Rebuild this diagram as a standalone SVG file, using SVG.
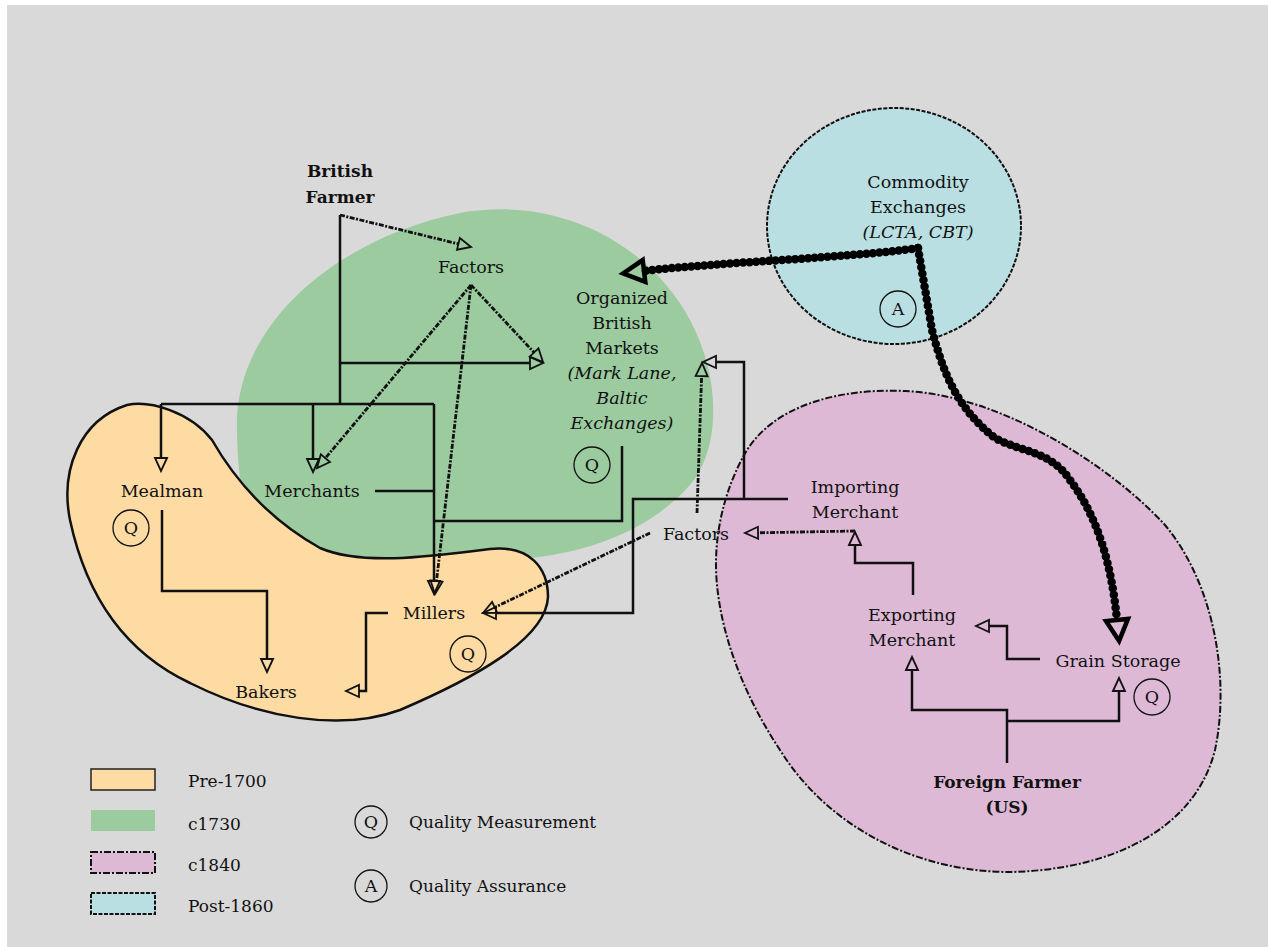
<svg xmlns="http://www.w3.org/2000/svg" width="1268" height="947" viewBox="0 0 1268 947">
<style>
text{font-family:"DejaVu Serif","Liberation Serif",serif;font-size:17.5px;fill:#111;text-anchor:middle}
.b{font-weight:bold;font-size:17px}
.i{font-style:italic}
.lg{text-anchor:start;font-size:17px}
.ln{fill:none;stroke:#111;stroke-width:2.5;stroke-linejoin:miter}
.ds{fill:none;stroke:#111;stroke-width:2.8;stroke-dasharray:5 1.5 2 1.5}
.th{fill:none;stroke:#000;stroke-width:8.5;stroke-linecap:round;stroke-dasharray:0 6.5}
.ring{fill:none;stroke:#111;stroke-width:1.3}
.ah{fill:none;stroke:#111;stroke-width:1.8;stroke-dasharray:none}
.ahb{fill:none;stroke:#000;stroke-width:4.5;stroke-dasharray:none;stroke-linejoin:miter}
</style>
<defs>
<marker id="a" markerUnits="userSpaceOnUse" viewBox="0 0 16 14" markerWidth="16" markerHeight="14" refX="1" refY="7" orient="auto" overflow="visible"><path class="ah" d="M1,1 L14,7 L1,13 Z"/></marker>
<marker id="ab" markerUnits="userSpaceOnUse" viewBox="0 0 28 28" markerWidth="28" markerHeight="28" refX="2" refY="14" orient="auto" overflow="visible"><path class="ahb" d="M2,3 L23,14 L2,25 Z"/></marker>
</defs>
<rect x="0" y="0" width="1268" height="947" fill="#ffffff"/>
<rect x="7" y="5" width="1261" height="942" fill="#d9d9d9"/>
<g id="regions">
<path id="region-c1730" d="M237,430 C233,330 330,240 460,213 C560,195 650,245 690,320 C722,380 720,450 690,485 C650,530 590,552 530,558 L300,575 C250,560 238,500 237,430 Z" fill="#9bcb9f"/>
<path id="region-pre1700" d="M127,405 C150,400 190,412 212,440 C235,480 270,520 320,548 C360,565 420,558 490,549 C530,545 548,568 548,597 C546,640 470,680 400,710 C340,732 260,718 190,683 C120,650 85,590 70,520 C60,470 80,420 127,405 Z" fill="#fedba3" stroke="#111" stroke-width="2.5"/>
<path id="region-c1840" d="M743,457 C770,405 840,388 905,391 C1000,395 1110,465 1165,525 C1215,585 1230,680 1215,750 C1195,830 1110,870 1010,872 C920,872 830,830 780,750 C740,690 715,620 716,560 C717,520 728,485 743,457 Z" fill="#ddb9d6" stroke="#111" stroke-width="2" stroke-dasharray="7 2 2 2"/>
<ellipse id="region-post1860" cx="894" cy="226" rx="127" ry="118" fill="#b9dfe3" stroke="#111" stroke-width="2" stroke-dasharray="4 1.5"/>
</g>
<g id="connectors">
<path class="ln" d="M340,215 V404"/>
<path class="ln" d="M340,363 H530" marker-end="url(#a)"/>
<path class="ln" d="M161,404 H434"/>
<path class="ln" d="M161,404 V458" marker-end="url(#a)"/>
<path class="ln" d="M313,404 V459" marker-end="url(#a)"/>
<path class="ln" d="M434,404 V581" marker-end="url(#a)"/>
<path class="ln" d="M375,491 H434"/>
<path class="ln" d="M162,510 V591 H267 V659" marker-end="url(#a)"/>
<path class="ln" d="M388,613 H366 V691 H359" marker-end="url(#a)"/>
<path class="ln" d="M622,446 V521 H434"/>
<path class="ln" d="M788,499 H633 V613 H496" marker-end="url(#a)"/>
<path class="ln" d="M744,499 V362 H716" marker-end="url(#a)"/>
<path class="ln" d="M913,595 V563 H855 V545" marker-end="url(#a)"/>
<path class="ln" d="M1040,659 H1007 V626 H989" marker-end="url(#a)"/>
<path class="ln" d="M1007,763 V710 H912 V670" marker-end="url(#a)"/>
<path class="ln" d="M1007,721 H1119 V691" marker-end="url(#a)"/>
<path class="ds" d="M340,215 L458.4,243.9" marker-end="url(#a)"/>
<path class="ds" d="M471,285 L534.1,352.5" marker-end="url(#a)"/>
<path class="ds" d="M471,285 L325.4,458.1" marker-end="url(#a)"/>
<path class="ds" d="M471,285 L436.5,581.1" marker-end="url(#a)"/>
<path class="ds" d="M650,533 L494.7,607.4" marker-end="url(#a)"/>
<path class="ds" d="M697,513 L701.6,376" marker-end="url(#a)"/>
<path class="ds" d="M855,531 L758,532.8" marker-end="url(#a)"/>
<path class="th" d="M918,248 C850,258 720,262 644,271" marker-end="url(#ab)"/>
<path class="th" d="M918,248 L932,330 C945,380 960,410 995,438 C1020,452 1050,450 1070,480 C1100,520 1112,570 1117,620" marker-end="url(#ab)"/>
</g>
<g id="british-farmer"><text class="b" x="340" y="177">British</text><text class="b" x="340" y="203">Farmer</text></g>
<g id="factors-uk"><text x="471" y="273">Factors</text></g>
<g id="organized-markets">
<text x="622" y="304">Organized</text><text x="622" y="329">British</text><text x="622" y="354">Markets</text>
<text class="i" x="622" y="379">(Mark Lane,</text><text class="i" x="622" y="404">Baltic</text><text class="i" x="622" y="429">Exchanges)</text>
<circle class="ring" cx="592" cy="465" r="18"/><text x="592" y="471">Q</text>
</g>
<g id="commodity-exchanges">
<text x="918" y="188">Commodity</text><text x="918" y="213">Exchanges</text><text class="i" x="918" y="238">(LCTA, CBT)</text>
<circle class="ring" cx="898" cy="309" r="18"/><text x="898" y="315">A</text>
</g>
<g id="mealman"><text x="162" y="497">Mealman</text><circle class="ring" cx="131" cy="528" r="18"/><text x="131" y="534">Q</text></g>
<g id="merchants"><text x="312" y="497">Merchants</text></g>
<g id="millers"><text x="434" y="619">Millers</text><circle class="ring" cx="468" cy="654" r="18"/><text x="468" y="660">Q</text></g>
<g id="bakers"><text x="266" y="698">Bakers</text></g>
<g id="factors-import"><text x="696" y="540">Factors</text></g>
<g id="importing-merchant"><text x="855" y="493">Importing</text><text x="855" y="518">Merchant</text></g>
<g id="exporting-merchant"><text x="912" y="621">Exporting</text><text x="912" y="646">Merchant</text></g>
<g id="grain-storage"><text x="1118" y="667">Grain Storage</text><circle class="ring" cx="1152" cy="697" r="18"/><text x="1152" y="703">Q</text></g>
<g id="foreign-farmer"><text class="b" x="1007" y="788">Foreign Farmer</text><text class="b" x="1007" y="813">(US)</text></g>
<g id="legend">
<rect x="91" y="769" width="64" height="21" fill="#fedba3" stroke="#222" stroke-width="1.5"/>
<rect x="91" y="810" width="64" height="21" fill="#9bcb9f"/>
<rect x="91" y="852" width="64" height="21" fill="#ddb9d6" stroke="#111" stroke-width="2" stroke-dasharray="7 2 2 2"/>
<rect x="91" y="893" width="64" height="21" fill="#b9dfe3" stroke="#111" stroke-width="2" stroke-dasharray="4 1.5"/>
<text class="lg" x="188" y="787">Pre-1700</text>
<text class="lg" x="188" y="830">c1730</text>
<text class="lg" x="188" y="871">c1840</text>
<text class="lg" x="188" y="912">Post-1860</text>
<circle class="ring" cx="371" cy="822" r="16"/><text x="371" y="828">Q</text>
<text class="lg" x="409" y="828">Quality Measurement</text>
<circle class="ring" cx="371" cy="886" r="16"/><text x="371" y="892">A</text>
<text class="lg" x="409" y="892">Quality Assurance</text>
</g>
</svg>
